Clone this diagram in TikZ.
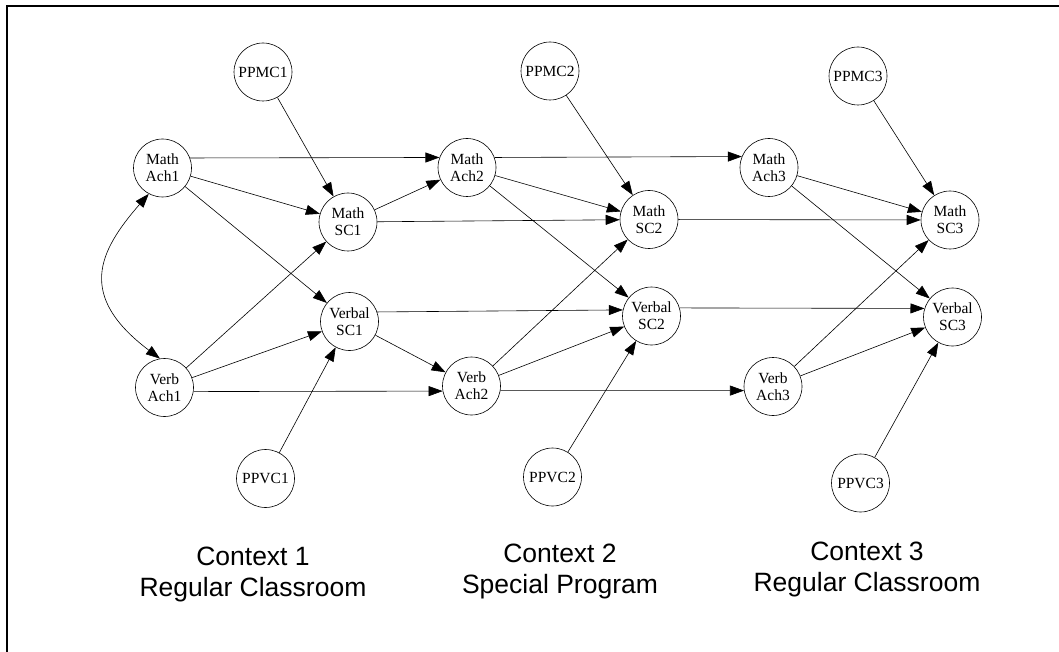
\documentclass[tikz,border=0pt]{standalone}
\usepackage{fontspec}
\setmainfont{Liberation Serif}
\newfontfamily\ctxfont{Liberation Sans}
\usetikzlibrary{arrows.meta}
\begin{document}
\begin{tikzpicture}[x=1pt,y=-1pt,
  var/.style={circle,draw,line width=0.6pt,minimum size=58pt,inner sep=0pt,align=center,
    font=\fontsize{15.5}{17}\selectfont},
  ctx/.style={align=center,font=\ctxfont\fontsize{26.5}{31}\selectfont},
  path/.style={line width=0.6pt,-{Triangle[length=14pt,width=10pt]}},
  bipath/.style={line width=0.6pt,{Triangle[length=14pt,width=10pt]}-{Triangle[length=14pt,width=10pt]}}]
\useasboundingbox (0,0) rectangle (1059,652);
\draw[line width=2pt] (7,652) -- (7,6) -- (1059,6);
% context 1
\node[var] (ppmc1) at (263,72) {PPMC1};
\node[var] (ma1) at (162.5,168) {Math\\Ach1};
\node[var] (ms1) at (348,222) {Math\\SC1};
\node[var] (vs1) at (349.5,321.5) {Verbal\\SC1};
\node[var] (va1) at (164.5,387.5) {Verb\\Ach1};
\node[var] (ppvc1) at (265.5,478.5) {PPVC1};
% context 2
\node[var] (ppmc2) at (550,71) {PPMC2};
\node[var] (ma2) at (467,167.5) {Math\\Ach2};
\node[var] (ms2) at (649,219.5) {Math\\SC2};
\node[var] (vs2) at (651.5,316) {Verbal\\SC2};
\node[var] (va2) at (471.5,386) {Verb\\Ach2};
\node[var] (ppvc2) at (552.5,477) {PPVC2};
% context 3
\node[var] (ppmc3) at (858,76) {PPMC3};
\node[var] (ma3) at (769,167.5) {Math\\Ach3};
\node[var] (ms3) at (950,220) {Math\\SC3};
\node[var] (vs3) at (952.5,317) {Verbal\\SC3};
\node[var] (va3) at (773,386.5) {Verb\\Ach3};
\node[var] (ppvc3) at (860.5,483) {PPVC3};
% labels
\node[ctx] (c1) at (253,574) {Context 1\\Regular Classroom};
\node[ctx] (c2) at (560,571.5) {Context 2\\Special Program};
\node[ctx] (c3) at (867,569) {Context 3\\Regular Classroom};
% edges context 1
\draw[path] (ppmc1) -- (ms1);
\draw[path] (ma1.20) -- (ma2.160);
\draw[path] (ma1) -- (ms1);
\draw[path] (ma1) -- (vs1);
\draw[path] (ms1) -- (ma2);
\draw[path] (ms1) -- (ms2);
\draw[path] (va1) -- (ms1);
\draw[path] (va1) -- (vs1);
\draw[path] (va1.-8) -- (va2.-170);
\draw[path] (vs1.19) -- (vs2.168);
\draw[path] (vs1) -- (va2);
\draw[path] (ppvc1) -- (vs1);
\draw[bipath] (ma1.242) .. controls (98,252) and (77,296) .. (va1.99);
% edges context 2
\draw[path] (ppmc2) -- (ms2);
\draw[path] (ma2.20) -- (ma3.158);
\draw[path] (ma2) -- (ms2);
\draw[path] (ma2) -- (vs2);
\draw[path] (ms2) -- (ms3);
\draw[path] (va2) -- (ms2);
\draw[path] (va2) -- (vs2);
\draw[path] (va2.-9) -- (va3.-172);
\draw[path] (vs2.16) -- (vs3.163);
\draw[path] (ppvc2) -- (vs2);
% edges context 3
\draw[path] (ppmc3) -- (ms3);
\draw[path] (ma3) -- (ms3);
\draw[path] (ma3) -- (vs3);
\draw[path] (va3) -- (ms3);
\draw[path] (va3) -- (vs3);
\draw[path] (ppvc3) -- (vs3);
\end{tikzpicture}
\end{document}
